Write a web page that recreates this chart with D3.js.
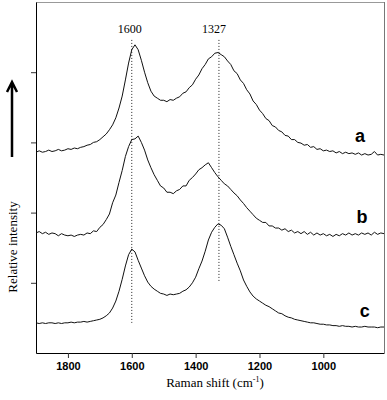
<html>
<head>
    <title>Raman spectra</title>
    <script type="text/javascript" src="https://d3js.org/d3.v7.min.js"></script>
    <style>
	body { margin: 0; background: #fff; }
	.tick text { font-family: "Liberation Sans", Arial, sans-serif; font-weight: bold; font-size: 11px; }
	.serif { font-family: "Liberation Serif", "Times New Roman", serif; }
	.trace { fill: none; stroke: #111; stroke-width: 1; }
    </style>
</head>
<body>
<script>
// ---------------------------------------------------------------
// data (Raman shift in cm-1, intensity in a.u.)
// ---------------------------------------------------------------
var shifts = [
	1900,1890,1880,1870,1860,1850,1840,1830,1820,1810,
	1800,1790,1780,1770,1760,1750,1740,1730,1720,1710,
	1700,1690,1680,1670,1660,1650,1640,1630,1620,1610,
	1600,1590,1580,1570,1560,1550,1540,1530,1520,1510,
	1500,1490,1480,1470,1460,1450,1440,1430,1420,1410,
	1400,1390,1380,1370,1360,1350,1340,1330,1320,1310,
	1300,1290,1280,1270,1260,1250,1240,1230,1220,1210,
	1200,1190,1180,1170,1160,1150,1140,1130,1120,1110,
	1100,1090,1080,1070,1060,1050,1040,1030,1020,1010,
	1000,990,980,970,960,950,940,930,920,910,
	900,890,880,870,860,850,840,830,820,810 ];

var seriesA = [
	286,288,286,287,289,287,288,290,288,289,
	291,290,292,291,293,294,296,297,300,301,
	304,308,312,318,325,335,349,366,389,413,
	432,439,432,417,400,385,373,366,363,360,
	360,358,361,360,363,365,370,372,378,382,
	390,396,405,411,419,422,427,428,425,422,
	416,411,402,398,389,384,375,369,359,354,
	346,341,334,331,324,322,317,315,310,309,
	304,304,300,299,296,297,293,294,290,291,
	288,289,287,288,285,287,284,286,284,285,
	283,285,282,284,282,283,287,282,283,282 ];

var seriesB = [
	171,173,170,172,169,171,170,167,170,168,
	167,168,166,168,169,168,171,170,174,173,
	179,183,190,198,214,225,243,260,280,294,
	304,305,309,300,289,275,264,254,246,238,
	235,229,229,227,231,233,238,238,246,250,
	255,261,264,268,271,264,257,251,246,241,
	238,233,228,224,218,213,207,202,197,192,
	189,186,186,181,181,178,178,175,177,173,
	175,171,173,170,173,169,172,168,171,168,
	170,167,169,166,169,167,170,168,171,168,
	170,168,171,169,171,168,172,169,171,170 ];

var seriesC = [
	43,42,43,42,43,43,42,43,42,43,
	43,44,43,44,44,45,44,45,46,47,
	48,50,53,57,64,74,88,105,124,140,
	148,144,132,121,110,101,95,91,88,85,
	84,82,84,83,84,85,88,90,94,100,
	108,120,131,145,161,172,179,184,182,177,
	165,152,140,128,117,104,95,87,81,77,
	74,71,68,66,63,60,57,56,53,51,
	50,48,47,46,45,44,43,43,42,41,
	41,40,40,39,39,38,39,38,38,37,
	38,37,37,38,37,37,37,36,37,37 ];

var xTicks = [1800, 1600, 1400, 1200, 1000];
var yTicks = [100, 200, 300, 400];

// peak markers: position and intensity range of the dotted line
var peakShifts = [1600, 1327];
var peakLow    = [43, 100];
var peakHigh   = 446;

// curve labels: name, anchor shift, anchor intensity
var curveNames  = ["a", "b", "c"];
var labelShift  = [885, 879, 870];
var labelLevel  = [300, 185, 51];

// ---------------------------------------------------------------
var W = 387, H = 400;
var plot = { left: 36, right: 384, top: 2, bottom: 353 };

var svg = d3.select("body").append("svg")
	.attr("width", W)
	.attr("height", H);

var x = d3.scaleLinear().domain([1900, 810]).range([plot.left, plot.right]);
var y = d3.scaleLinear().domain([0, 500]).range([plot.bottom, plot.top]);

// frame: top and right edges are light grey in the scan
svg.append("line").attr("x1", plot.left).attr("x2", plot.right)
	.attr("y1", plot.top + 0.5).attr("y2", plot.top + 0.5)
	.attr("stroke", "#999");
svg.append("line").attr("x1", plot.right + 0.5).attr("x2", plot.right + 0.5)
	.attr("y1", plot.top).attr("y2", plot.bottom)
	.attr("stroke", "#777");

// axes
var xAxis = svg.append("g")
	.attr("transform", "translate(0," + plot.bottom + ")")
	.call(d3.axisBottom(x).tickValues(xTicks).tickSize(5).tickSizeOuter(0).tickPadding(4).tickFormat(d3.format("d")));
var yAxis = svg.append("g")
	.attr("transform", "translate(" + plot.left + ",0)")
	.call(d3.axisLeft(y).tickValues(yTicks).tickSize(5).tickSizeOuter(0).tickFormat(""));
svg.selectAll(".domain").attr("stroke", "#000");
svg.selectAll(".tick line").attr("stroke", "#333");
xAxis.selectAll("text").attr("fill", "#000");

// dotted peak markers
peakShifts.forEach(function(p, i){
	svg.append("line")
		.attr("x1", x(p)).attr("x2", x(p))
		.attr("y1", y(peakHigh)).attr("y2", y(peakLow[i]))
		.attr("stroke", "#222").attr("stroke-width", 1)
		.attr("stroke-dasharray", "1,2");
	svg.append("text").attr("class", "serif")
		.attr("x", x(p) - (i == 0 ? 2 : 5)).attr("y", 33)
		.attr("text-anchor", "middle")
		.attr("fill", "#000")
		.style("font-size", "12px")
		.text(p);
});

// spectra
var line = d3.line()
	.x(function(d){ return x(d[0]); })
	.y(function(d){ return y(d[1]); });

[seriesA, seriesB, seriesC].forEach(function(vals, i){
	var pts = shifts.map(function(s, j){ return [s, vals[j]]; });
	svg.append("path").attr("class", "trace").attr("d", line(pts));
	svg.append("text")
		.attr("x", x(labelShift[i])).attr("y", y(labelLevel[i]))
		.attr("text-anchor", "middle")
		.style("font-family", "Liberation Sans, Arial, sans-serif")
		.style("font-weight", "bold")
		.style("font-size", "18px")
		.text(curveNames[i]);
});

// axis titles
var xt = svg.append("text").attr("class", "serif")
	.attr("x", (plot.left + plot.right) / 2 + 5).attr("y", 387)
	.attr("text-anchor", "middle")
	.style("font-size", "13px");
xt.append("tspan").text("Raman shift (cm");
xt.append("tspan").attr("dy", -5).style("font-size", "8px").text("-1");
xt.append("tspan").attr("dy", 5).text(")");

svg.append("text").attr("class", "serif")
	.attr("transform", "translate(17,247) rotate(-90)")
	.attr("text-anchor", "middle")
	.style("font-size", "13px")
	.text("Relative intensity");

// arrow
svg.append("path")
	.attr("d", "M12,157 L12,83 M7,92 L12,82 L17,92")
	.attr("fill", "none").attr("stroke", "#000")
	.attr("stroke-width", 2.5).attr("stroke-linejoin", "miter");
</script>
</body>
</html>
